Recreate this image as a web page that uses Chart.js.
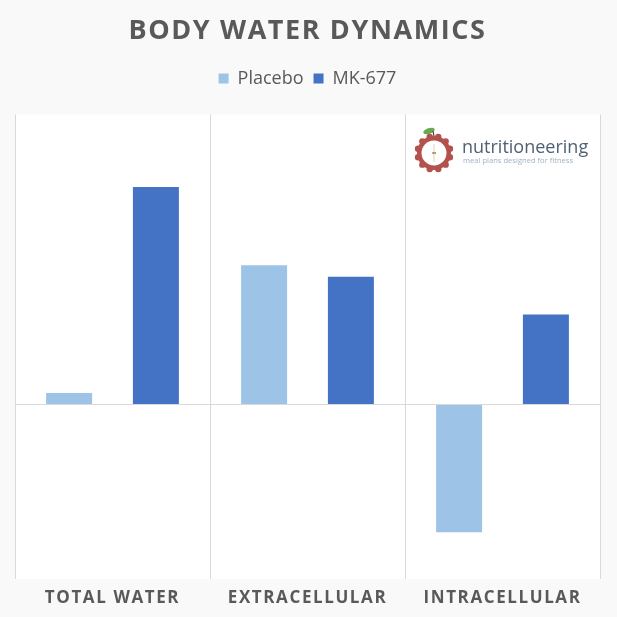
<!DOCTYPE html>
<html>
<head>
<meta charset="utf-8">
<script src="https://cdn.jsdelivr.net/npm/chart.js@4.4.1/dist/chart.umd.min.js"></script>
<style>
  html, body { margin: 0; padding: 0; background: #f9f9f9; }
  canvas { display: block; }
</style>
</head>
<body>
<canvas id="waterChart" width="617" height="617"></canvas>
<script>
/* data */
var categories = ['TOTAL WATER', 'EXTRACELLULAR', 'INTRACELLULAR'];
var seriesNames = ['Placebo', 'MK-677'];
var placeboValues = [0.04, 0.48, -0.44];
var mk677Values = [0.75, 0.44, 0.31];
var seriesColors = ['#9dc3e6', '#4472c4'];

var textColor = '#595959';
var gridColor = '#d9d9d9';

// white plot area + letter spaced titles / axis labels
var plotBackground = {
    id: 'plotBackground',
    afterInit: function (chart) {
        // legend text is not spaced in the original
        var legend = chart.legend;
        var origDraw = legend.draw.bind(legend);
        legend.draw = function (area) {
            var c = legend.ctx;
            var old = c.letterSpacing;
            c.letterSpacing = '0px';
            origDraw(area);
            c.letterSpacing = old;
        };
        var origFit = legend.fit.bind(legend);
        legend.fit = function () {
            origFit();
            this.height += 17;
        };
    },
    beforeDraw: function (chart) {
        var ctx = chart.ctx;
        var a = chart.chartArea;
        ctx.save();
        ctx.fillStyle = '#ffffff';
        ctx.fillRect(a.left, a.top, a.right - a.left, a.bottom - a.top);
        ctx.restore();
        ctx.letterSpacing = '1.6px';
    },
    afterDraw: function (chart) {
        chart.ctx.letterSpacing = '0px';
    }
};

// nutritioneering watermark in the top right corner
var logo = {
    id: 'logo',
    afterDraw: function (chart) {
        var ctx = chart.ctx;
        var cx = 434, cy = 153;
        ctx.save();
        ctx.letterSpacing = '0px';
        ctx.fillStyle = '#b3514d';
        for (var i = 0; i < 12; i++) {
            var ang = i * Math.PI / 6 + Math.PI / 12;
            ctx.beginPath();
            ctx.arc(cx + Math.cos(ang) * 16.5, cy + Math.sin(ang) * 16.5, 3.2, 0, Math.PI * 2);
            ctx.fill();
        }
        ctx.beginPath();
        ctx.arc(cx, cy, 17, 0, Math.PI * 2);
        ctx.fill();
        ctx.fillStyle = '#ffffff';
        ctx.beginPath();
        ctx.arc(cx, cy, 12.5, 0, Math.PI * 2);
        ctx.fill();
        ctx.strokeStyle = '#e2cfae';
        ctx.lineWidth = 1;
        ctx.beginPath();
        ctx.moveTo(cx, cy - 9);
        ctx.lineTo(cx, cy + 9);
        ctx.stroke();
        ctx.fillStyle = '#8a6a4a';
        ctx.fillRect(cx - 1.5, cy - 1, 1.2, 2);
        ctx.fillRect(cx + 0.5, cy - 1, 1.2, 2);
        // leaf
        ctx.fillStyle = '#6aa84f';
        ctx.beginPath();
        ctx.ellipse(cx - 5, cy - 22, 6, 2.8, -0.35, 0, Math.PI * 2);
        ctx.fill();
        ctx.strokeStyle = '#5a3d2b';
        ctx.lineWidth = 1.2;
        ctx.beginPath();
        ctx.moveTo(cx, cy - 17);
        ctx.lineTo(cx - 1, cy - 22);
        ctx.stroke();
        // text
        ctx.fillStyle = '#4f6275';
        ctx.font = '18px "Open Sans"';
        ctx.textBaseline = 'alphabetic';
        ctx.textAlign = 'left';
        ctx.fillText('nutritioneering', 462, 153);
        ctx.fillStyle = '#9fb1c2';
        ctx.font = '7.6px "Open Sans"';
        ctx.fillText('meal plans designed for fitness', 463, 163);
        ctx.restore();
    }
};

var chart = new Chart('waterChart', {
    type: 'bar',
    data: {
        labels: categories,
        datasets: [{
            label: seriesNames[0],
            data: placeboValues,
            backgroundColor: seriesColors[0]
        }, {
            label: seriesNames[1],
            data: mk677Values,
            backgroundColor: seriesColors[1]
        }]
    },
    options: {
        responsive: false,
        animation: false,
        categoryPercentage: 0.89,
        barPercentage: 0.53,
        layout: {
            padding: {left: 15, right: 17, top: 0, bottom: 0}
        },
        plugins: {
            title: {
                display: true,
                text: 'BODY WATER DYNAMICS',
                color: textColor,
                font: {family: '"Open Sans"', size: 27, weight: 'bold'},
                padding: {top: 15, bottom: 12}
            },
            legend: {
                display: true,
                labels: {
                    color: textColor,
                    font: {family: '"Open Sans"', size: 18},
                    boxWidth: 10,
                    boxHeight: 10,
                    padding: 10
                }
            },
            tooltip: {enabled: false}
        },
        scales: {
            x: {
                grid: {
                    color: gridColor,
                    drawTicks: false,
                    offset: true
                },
                border: {display: false},
                ticks: {
                    color: textColor,
                    font: {family: '"Open Sans"', size: 17, weight: 'bold'},
                    padding: 9,
                    autoSkip: false,
                    maxRotation: 0
                }
            },
            y: {
                min: -0.6,
                max: 1.0,
                ticks: {display: false, stepSize: 0.2},
                border: {display: false},
                grid: {
                    drawTicks: false,
                    color: function (ctx) {
                        return ctx.tick && Math.abs(ctx.tick.value) < 1e-9 ? gridColor : 'rgba(0,0,0,0)';
                    }
                }
            }
        }
    },
    plugins: [plotBackground, logo]
});
</script>
</body>
</html>
